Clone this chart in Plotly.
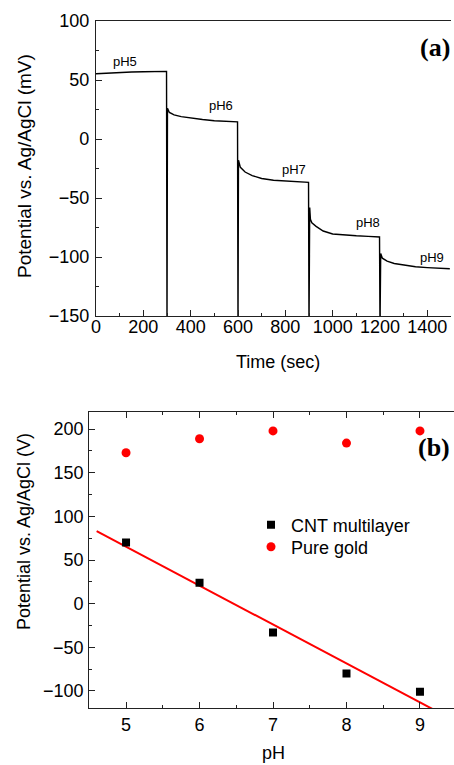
import numpy as np
import plotly.graph_objects as go

# ---------------- Data: panel (a) ----------------
time_sec = [0, 50, 100, 150, 200, 250, 298, 300,
            302, 310, 330, 360, 400, 450, 500, 550, 598, 600,
            602, 610, 630, 660, 700, 750, 800, 850, 898, 900,
            903, 906, 912, 930, 960, 1000, 1050, 1100, 1150, 1198, 1200,
            1203, 1210, 1230, 1260, 1300, 1350, 1400, 1450, 1495]
potential_mV = [55.3, 56.0, 56.5, 56.8, 57.0, 57.2, 57.3, -160,
                26.0, 22.5, 20.5, 19.0, 17.8, 16.5, 15.5, 15.0, 14.5, -160,
                -18.0, -24.0, -28.0, -31.0, -33.5, -35.0, -35.8, -36.3, -36.8, -160,
                -58.0, -68.0, -71.0, -74.0, -78.0, -80.5, -81.5, -82.0, -82.5, -83.0, -160,
                -97.0, -101.0, -103.5, -105.5, -107.0, -108.3, -109.0, -109.5, -110.0]
step_labels = ["pH5", "pH6", "pH7", "pH8", "pH9"]
label_t = [122, 528, 836, 1150, 1418]
label_v = [66, 28, -26, -71, -100]

# ---------------- Data: panel (b) ----------------
ph = [5, 6, 7, 8, 9]
cnt_multilayer = [70, 24, -33, -80, -101]
pure_gold = [173, 189, 198, 184, 198]
fit_ph = [4.6, 9.3]

W, H = 454, 765
def px(x):
    return x / W
def py(y):
    return 1 - y / H

FONT = "Liberation Sans, Arial, sans-serif"
AX = "#222222"

fig = go.Figure()

fig.add_trace(go.Scatter(x=time_sec, y=potential_mV, mode="lines",
                         line=dict(color="black", width=1.4),
                         showlegend=False, xaxis="x", yaxis="y"))

for lab, t, v in zip(step_labels, label_t, label_v):
    fig.add_annotation(x=t, y=v, xref="x", yref="y", text=lab, showarrow=False,
                       font=dict(family=FONT, size=13, color="black"))

# Linear fit for CNT multilayer
slope, intercept = np.polyfit(ph, cnt_multilayer, 1)
fit_y = [slope * x + intercept for x in fit_ph]
fig.add_trace(go.Scatter(x=fit_ph, y=fit_y, mode="lines",
                         line=dict(color="#ff0000", width=2),
                         showlegend=False, xaxis="x2", yaxis="y2"))
fig.add_trace(go.Scatter(x=ph, y=cnt_multilayer, mode="markers", name="CNT multilayer",
                         marker=dict(symbol="square", size=8, color="black"),
                         xaxis="x2", yaxis="y2", legend="legend"))
fig.add_trace(go.Scatter(x=ph, y=pure_gold, mode="markers", name="Pure gold",
                         marker=dict(symbol="circle", size=9, color="#ff0000"),
                         xaxis="x2", yaxis="y2", legend="legend2"))

tickfont = dict(family=FONT, size=18, color="black")
common = dict(showgrid=False, zeroline=False, showline=True, linecolor=AX, linewidth=1.3,
              ticks="inside", tickcolor=AX, tickwidth=1.3, ticklen=6, tickfont=tickfont)
minor_common = dict(ticks="inside", ticklen=3, tickcolor=AX, tickwidth=1.3)

legend_common = dict(xanchor="left", yanchor="middle", bgcolor="rgba(0,0,0,0)",
                     itemwidth=30, font=dict(family=FONT, size=18, color="black"))

fig.update_layout(
    width=W, height=H,
    margin=dict(l=0, r=0, t=0, b=0, pad=0, autoexpand=False),
    paper_bgcolor="white", plot_bgcolor="white",
    xaxis=dict(domain=[px(96), px(451)], range=[0, 1500], dtick=200, tick0=0,
               anchor="y", mirror=True, minor=dict(dtick=100, **minor_common),
               ticklabelstandoff=-6, **common),
    yaxis=dict(domain=[py(316), py(21)], range=[-150, 100], dtick=50, tick0=0,
               anchor="x", mirror=False, minor=dict(dtick=25, **minor_common),
               ticklabelstandoff=2, **common),
    xaxis2=dict(domain=[px(89.3), 1.0], range=[4.5, 9.463], dtick=1, tick0=0,
                anchor="y2", mirror="ticks", minor=dict(dtick=0.5, **minor_common),
                ticklabelstandoff=0, **common),
    yaxis2=dict(domain=[py(708.3), py(411.7)], range=[-120, 220], dtick=50, tick0=0,
                anchor="x2", mirror=False, minor=dict(dtick=25, **minor_common),
                ticklabelstandoff=1, **common),
    legend=dict(x=px(251), y=py(525), **legend_common),
    legend2=dict(x=px(251), y=py(547), **legend_common),
)

def label(x, y, text, size=18, angle=0, family=FONT, xanchor="center"):
    fig.add_annotation(x=px(x), y=py(y), xref="paper", yref="paper", text=text,
                       textangle=angle, xanchor=xanchor, yanchor="middle",
                       showarrow=False, font=dict(family=family, size=size, color="black"))

# axis titles and panel labels
label(278, 362, "Time (sec)")
label(24, 166, "Potential vs. Ag/AgCl (mV)", size=19, angle=-90)
label(273, 753, "pH")
label(24, 532, "Potential vs. Ag/AgCl (V)", angle=-90)
SERIF = "Liberation Serif, Times New Roman, serif"
label(452, 47, "<b>(a)</b>", size=26, family=SERIF, xanchor="right")
label(452, 447, "<b>(b)</b>", size=26, family=SERIF, xanchor="right")

fig.write_html("out.html", config={"displayModeBar": False},
               post_script="document.body.style.margin='0';document.body.style.overflow='hidden';")
